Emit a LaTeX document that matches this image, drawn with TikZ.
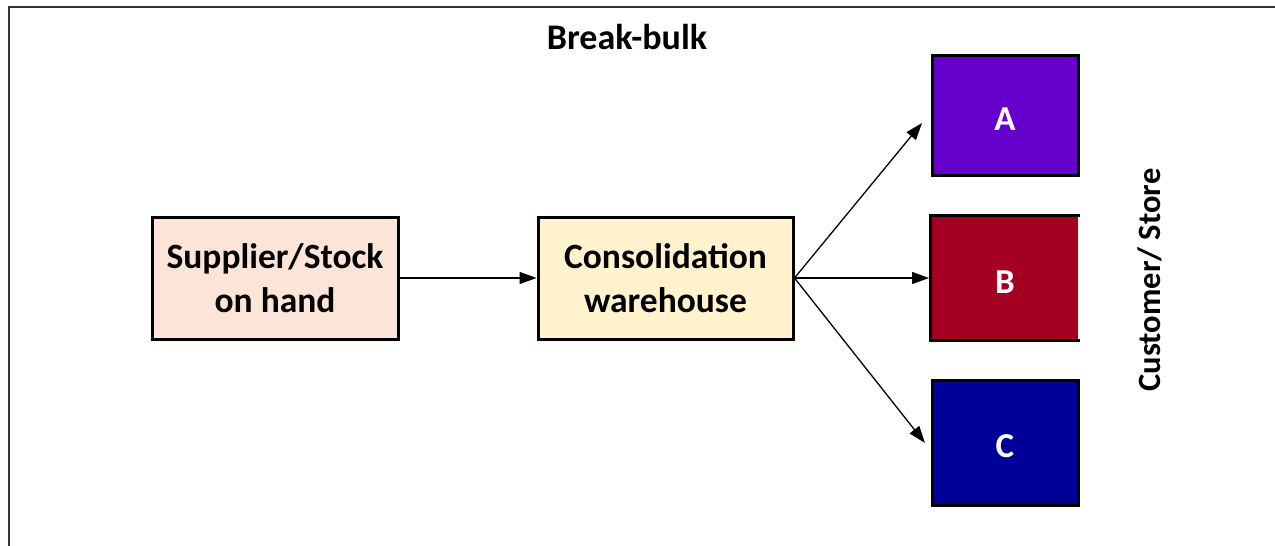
\documentclass[tikz,border=0pt]{standalone}
\usepackage{fontspec}
\setmainfont{Carlito}
\usetikzlibrary{arrows.meta}
\definecolor{supfill}{HTML}{FCE4D6}
\definecolor{consfill}{HTML}{FFF2CC}
\definecolor{acol}{HTML}{6600CC}
\definecolor{bcol}{HTML}{A50021}
\definecolor{ccol}{HTML}{000099}
\definecolor{framecol}{HTML}{333333}
\tikzset{
  flowbox/.style={draw=black, line width=3pt, align=center, inner sep=0pt,
    font=\fontsize{35.5}{46}\selectfont\bfseries},
  storebox/.style={line width=3pt, inner sep=0pt, minimum width=146pt,
    text height=31pt, text=white, font=\fontsize{35}{40}\selectfont\bfseries},
  flowarrow/.style={line width=1.3pt, -{Triangle[length=17pt,width=12pt]}},
  labeltext/.style={font=\fontsize{36}{40}\selectfont\bfseries}
}
\begin{document}
\begin{tikzpicture}[x=1pt,y=-1pt]
\useasboundingbox (0,0) rectangle (1275,546);
\fill[white] (0,0) rectangle (1275,546);
% outer frame (only left and top edges visible)
\draw[framecol, line width=1.5pt] (9,546) -- (9,7) -- (1275,7);

\node[labeltext] (title) at (627,37) {Break-bulk};

\node[flowbox, fill=supfill, minimum width=246pt, minimum height=122pt] (sup) at (275,278) {\raisebox{-2pt}{Supplier/Stock}\\on hand};
\node[flowbox, fill=consfill, minimum width=255pt, minimum height=122pt] (cons) at (665.5,278) {\raisebox{-2pt}{Consolidation}\\warehouse};

\node[storebox, draw=black, fill=acol, minimum height=120pt] (A) at (1005,115) {A};
\node[storebox, fill=bcol, minimum height=122pt] (B) at (1005,278) {B};
\draw[line width=3pt] (B.north east) -- (B.north west) -- (B.south west) -- (B.south east);
\node[storebox, draw=black, fill=ccol, minimum height=125pt] (C) at (1005,442.5) {C};

\node[font=\fontsize{32.5}{40}\selectfont\bfseries, rotate=90] (cust) at (1150,280) {Customer/ Store};

\coordinate (aend) at (922,123);
\coordinate (bend) at (929,278);
\coordinate (cend) at (925,443);
\draw[flowarrow] (sup.east) -- (cons.west);
\draw[flowarrow] (cons.east) -- (aend);
\draw[flowarrow] (cons.east) -- (bend);
\draw[flowarrow] (cons.east) -- (cend);
\end{tikzpicture}
\end{document}
